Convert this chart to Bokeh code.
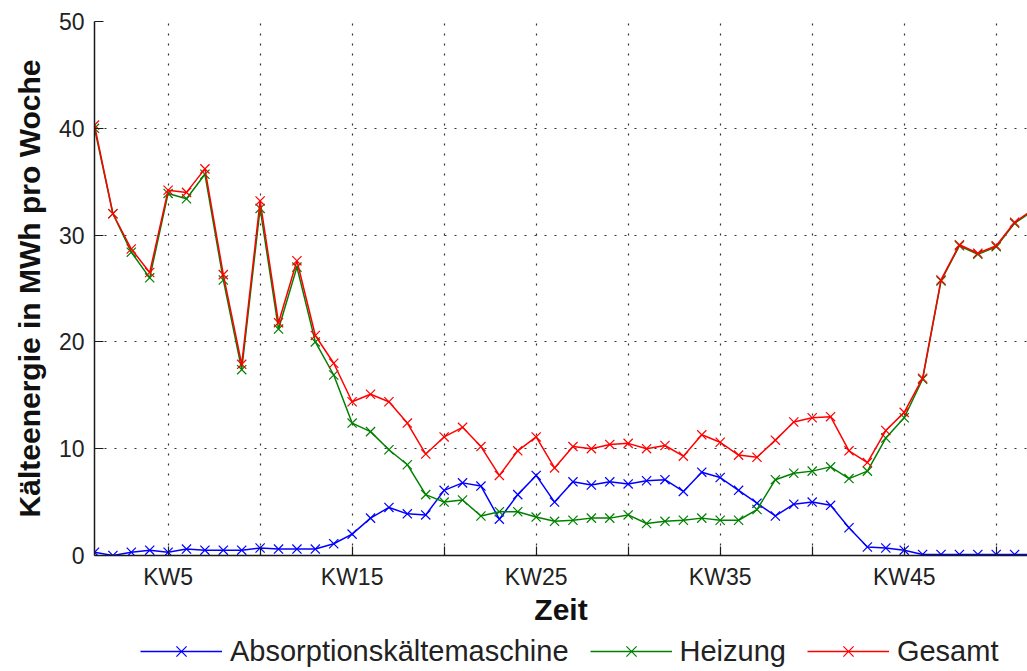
from bokeh.plotting import figure
from bokeh.layouts import column
from bokeh.models import Range1d, FixedTicker, Legend, LegendItem
from bokeh.embed import file_html
from bokeh.resources import INLINE

weeks = list(range(1, 53))
absorption = [0.3, 0.0, 0.3, 0.5, 0.3, 0.6, 0.5, 0.5, 0.5, 0.7, 0.6, 0.6, 0.6, 1.1, 2.0, 3.5,
              4.5, 3.9, 3.8, 6.1, 6.8, 6.5, 3.4, 5.7, 7.5, 5.0, 6.9, 6.6, 6.9, 6.7, 7.0, 7.1,
              6.0, 7.8, 7.3, 6.1, 4.9, 3.7, 4.8, 5.0, 4.7, 2.6, 0.8, 0.7, 0.5, 0.1, 0.1, 0.1,
              0.1, 0.1, 0.1, 0.1]
heizung = [40.0, 32.0, 28.4, 26.0, 33.9, 33.4, 35.7, 25.8, 17.4, 32.5, 21.2, 27.0, 20.0, 16.9,
           12.4, 11.6, 9.9, 8.5, 5.7, 5.0, 5.2, 3.7, 4.1, 4.1, 3.6, 3.2, 3.3, 3.5, 3.5, 3.8,
           3.0, 3.2, 3.3, 3.5, 3.3, 3.3, 4.3, 7.1, 7.7, 7.9, 8.3, 7.2, 7.9, 11.0, 12.9, 16.5,
           25.7, 29.0, 28.2, 28.9, 31.1, 32.3]
gesamt = [40.3, 32.0, 28.7, 26.5, 34.2, 34.0, 36.2, 26.3, 17.9, 33.2, 21.8, 27.6, 20.6, 18.0,
          14.4, 15.1, 14.4, 12.4, 9.5, 11.1, 12.0, 10.2, 7.5, 9.8, 11.1, 8.2, 10.2, 10.0, 10.4,
          10.5, 10.0, 10.3, 9.3, 11.3, 10.6, 9.4, 9.2, 10.8, 12.5, 12.9, 13.0, 9.8, 8.7, 11.7,
          13.4, 16.6, 25.8, 29.1, 28.3, 29.0, 31.2, 32.4]

x_ticks = [5, 10, 15, 20, 25, 30, 35, 40, 45, 50]
x_tick_labels = ["KW5", "", "KW15", "", "KW25", "", "KW35", "", "KW45", ""]
y_ticks = [0, 10, 20, 30, 40, 50]

series_names = ["Absorptionskältemaschine", "Heizung", "Gesamt"]
series_colors = ["#0000ff", "#008000", "#ff0000"]

FONT = "Liberation Sans"
TXT = "#222222"

p = figure(frame_width=933, frame_height=534, output_backend="svg", toolbar_location=None,
           x_range=Range1d(1, 51.7), y_range=Range1d(0, 50),
           min_border_left=94, min_border_top=21, min_border_bottom=76, min_border_right=0)
p.outline_line_color = None
p.background_fill_color = "white"
p.border_fill_color = "white"

for ax in (p.xaxis[0], p.yaxis[0]):
    ax.axis_line_color = "#1a1a1a"
    ax.axis_line_width = 1.5
    ax.major_tick_line_color = "#1a1a1a"
    ax.major_tick_line_width = 1.2
    ax.major_tick_in = 9
    ax.major_tick_out = 0
    ax.minor_tick_line_color = None
    ax.major_label_text_font = FONT
    ax.major_label_text_font_size = "23px"
    ax.major_label_text_color = TXT
    ax.axis_label_text_font = FONT
    ax.axis_label_text_font_size = "30px"
    ax.axis_label_text_font_style = "bold"
    ax.axis_label_text_color = "#111111"

p.xaxis[0].ticker = FixedTicker(ticks=x_ticks)
p.xaxis[0].major_label_overrides = {t: l for t, l in zip(x_ticks, x_tick_labels)}
p.xaxis[0].major_label_standoff = 8
p.xaxis[0].axis_label = "Zeit"
p.xaxis[0].axis_label_standoff = 0

p.yaxis[0].ticker = FixedTicker(ticks=y_ticks)
p.yaxis[0].major_label_standoff = 10
p.yaxis[0].axis_label = "Kälteenergie in MWh pro Woche"
p.yaxis[0].axis_label_standoff = 10

for g in (p.xgrid[0], p.ygrid[0]):
    g.grid_line_color = "#333333"
    g.grid_line_width = 1.2
    g.grid_line_dash = "2 8"

# legend strip below the chart (its keys use points outside its visible range)
lf = figure(width=1027, height=40, output_backend="svg", toolbar_location=None,
            x_range=Range1d(0, 1), y_range=Range1d(0, 1),
            x_axis_location=None, y_axis_location=None,
            min_border_left=0, min_border_right=0, min_border_top=0, min_border_bottom=0)
lf.outline_line_color = None
lf.xgrid.visible = False
lf.ygrid.visible = False

items = []
for name, vals, col in zip(series_names, [absorption, heizung, gesamt], series_colors):
    p.line(weeks, vals, line_color=col, line_width=1.5)
    p.scatter(weeks, vals, marker="x", size=13, line_color=col, line_width=1.2)
    kl = lf.line([-5, -4], [-5, -5], line_color=col, line_width=1.5)
    ks = lf.scatter([-5], [-5], marker="x", size=13, line_color=col, line_width=1.2)
    items.append(LegendItem(label=name, renderers=[kl, ks]))

legend = Legend(items=items, location=(46, 2), orientation="horizontal",
                glyph_width=82, glyph_height=36, label_standoff=8, spacing=21,
                padding=0, margin=0, border_line_color=None, background_fill_alpha=0,
                label_text_font=FONT, label_text_font_size="29px", label_text_color=TXT)
lf.add_layout(legend, "center")

layout = column(p, lf, spacing=0)
open("out.html", "w").write(file_html(layout, INLINE))
